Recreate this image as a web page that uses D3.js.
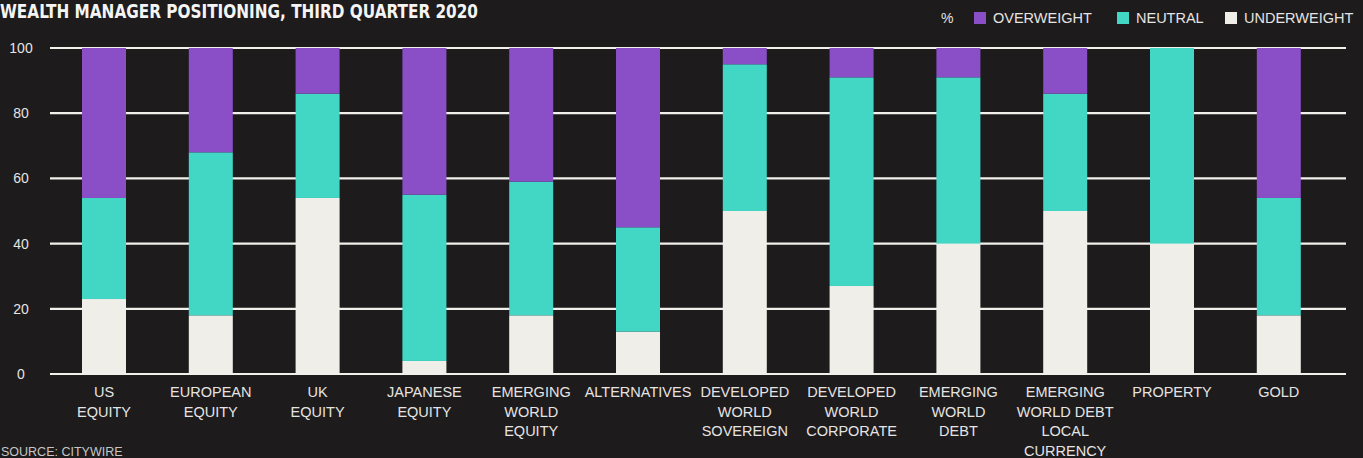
<!DOCTYPE html>
<html>
<head>
<meta charset="utf-8">
<script src="https://cdn.jsdelivr.net/npm/d3@7"></script>
<style>
  html, body { margin: 0; padding: 0; background: #1c1a1b; }
  svg { display: block; }
</style>
</head>
<body>
<svg id="chart" width="1363" height="458"></svg>
<script>
const categories = [
  ["US", "EQUITY"],
  ["EUROPEAN", "EQUITY"],
  ["UK", "EQUITY"],
  ["JAPANESE", "EQUITY"],
  ["EMERGING", "WORLD", "EQUITY"],
  ["ALTERNATIVES"],
  ["DEVELOPED", "WORLD", "SOVEREIGN"],
  ["DEVELOPED", "WORLD", "CORPORATE"],
  ["EMERGING", "WORLD", "DEBT"],
  ["EMERGING", "WORLD DEBT", "LOCAL", "CURRENCY"],
  ["PROPERTY"],
  ["GOLD"]
];
const underweight = [23, 18, 54, 4, 18, 13, 50, 27, 40, 50, 40, 18];
const neutral     = [31, 50, 32, 51, 41, 32, 45, 64, 51, 36, 60, 36];
const overweight  = [46, 32, 14, 45, 41, 55, 5, 9, 9, 14, 0, 46];
const seriesNames = ["UNDERWEIGHT", "NEUTRAL", "OVERWEIGHT"];
const seriesColors = ["#efeee9", "#42d7c5", "#8a4fc7"];
const yTicks = [0, 20, 40, 60, 80, 100];
const legendItems = [
  {name: "OVERWEIGHT", color: "#8a4fc7"},
  {name: "NEUTRAL", color: "#42d7c5"},
  {name: "UNDERWEIGHT", color: "#efeee9"}
];
const titleText = "WEALTH MANAGER POSITIONING, THIRD QUARTER 2020";
const sourceText = "SOURCE: CITYWIRE";

const svg = d3.select("#chart");
const W = 1363, H = 458;
svg.append("rect").attr("width", W).attr("height", H).attr("fill", "#1d1b1c");

const font = "'Liberation Sans', Arial, sans-serif";
const textColor = "#e6e4e2";

const rows = categories.map((c, i) => ({
  key: i,
  UNDERWEIGHT: underweight[i],
  NEUTRAL: neutral[i],
  OVERWEIGHT: overweight[i]
}));

const x = d3.scaleBand()
  .domain(d3.range(categories.length))
  .range([50.6, 1332.2])
  .paddingInner(0.588)
  .paddingOuter(0.294);

const y = d3.scaleLinear().domain([0, 100]).range([374, 48]);

// gridlines
svg.append("g").selectAll("line").data(yTicks).join("line")
  .attr("x1", 50).attr("x2", 1346)
  .attr("y1", d => y(d)).attr("y2", d => y(d))
  .attr("stroke", "#f2f0ea").attr("stroke-width", 2.2);

// y axis labels
const yAxis = d3.axisLeft(y).tickValues(yTicks).tickSize(0).tickPadding(0);
const yg = svg.append("g").attr("transform", "translate(21,0)").call(yAxis);
yg.select(".domain").remove();
yg.selectAll("text")
  .attr("text-anchor", "middle")
  .attr("x", 0)
  .attr("font-family", font).attr("font-size", 14)
  .attr("fill", textColor);

// stacked bars
const stack = d3.stack().keys(seriesNames)(rows);
const color = d3.scaleOrdinal().domain(seriesNames).range(seriesColors);
svg.append("g").selectAll("g").data(stack).join("g")
  .attr("fill", d => color(d.key))
  .selectAll("rect").data(d => d).join("rect")
  .attr("x", (d, i) => x(i))
  .attr("width", x.bandwidth())
  .attr("y", d => y(d[1]))
  .attr("height", d => y(d[0]) - y(d[1]));

// baseline redraw on top
svg.append("line")
  .attr("x1", 50).attr("x2", 1346)
  .attr("y1", y(0)).attr("y2", y(0))
  .attr("stroke", "#f2f0ea").attr("stroke-width", 2.2);

// category labels
const xg = svg.append("g");
categories.forEach((lines, i) => {
  const cx = x(i) + x.bandwidth() / 2;
  const t = xg.append("text")
    .attr("text-anchor", "middle")
    .attr("font-family", font).attr("font-size", 14.5)
    .attr("fill", textColor);
  lines.forEach((ln, j) => {
    t.append("tspan").attr("x", cx).attr("y", 397 + j * 19.6).text(ln);
  });
});

// title
svg.append("text")
  .attr("x", 0).attr("y", 18)
  .attr("font-family", "'Liberation Sans Narrow', 'DejaVu Sans Condensed', Arial, sans-serif")
  .attr("font-weight", "bold")
  .attr("font-stretch", "condensed")
  .attr("font-size", 20)
  .attr("textLength", 478)
  .attr("lengthAdjust", "spacingAndGlyphs")
  .attr("fill", "#f4f4f4")
  .text(titleText);

// legend
svg.append("text").attr("x", 941).attr("y", 23)
  .attr("font-family", font).attr("font-size", 14).attr("fill", textColor).text("%");
const legendX = [974, 1117, 1225];
legendItems.forEach((d, i) => {
  svg.append("rect").attr("x", legendX[i]).attr("y", 12)
    .attr("width", 12).attr("height", 12).attr("fill", d.color);
  svg.append("text").attr("x", legendX[i] + 19).attr("y", 23)
    .attr("font-family", font).attr("font-size", 14.5).attr("fill", textColor)
    .text(d.name);
});

// source
svg.append("text").attr("x", 1).attr("y", 456)
  .attr("font-family", font).attr("font-size", 12.5).attr("fill", "#c8c6c4")
  .text(sourceText);
</script>
</body>
</html>
